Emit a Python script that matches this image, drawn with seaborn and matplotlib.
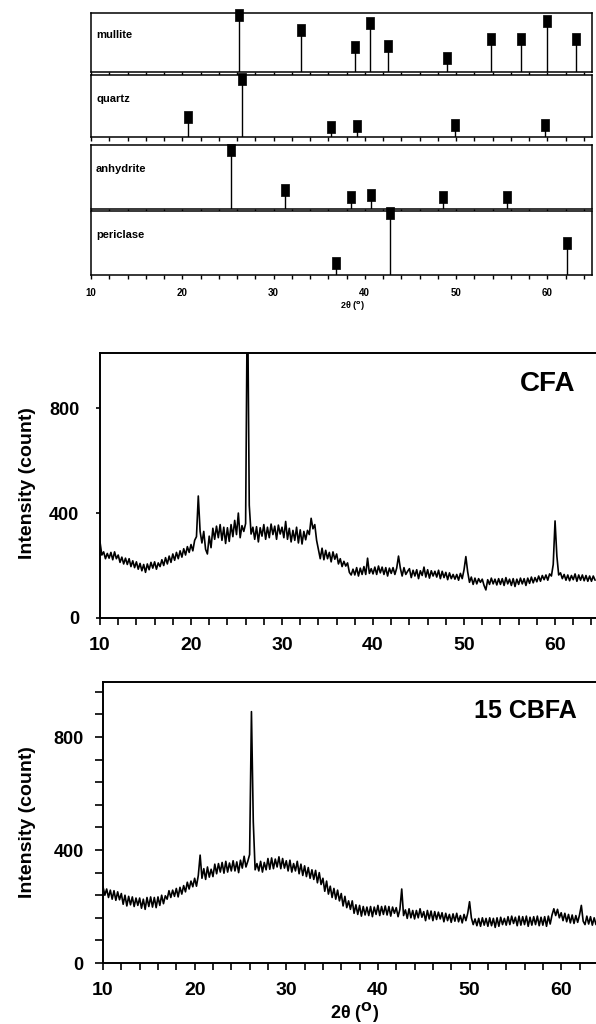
import numpy as np
import pandas as pd
import matplotlib
matplotlib.use("Agg")
import matplotlib.pyplot as plt
from matplotlib.ticker import MultipleLocator, FixedLocator
import seaborn as sns

# ---------------- data ----------------
phases = ["mullite", "quartz", "anhydrite", "periclase"]
mullite_pos = [26.2, 33.0, 38.9, 40.6, 42.5, 49.0, 53.8, 57.1, 60.0, 63.2]
mullite_int = [97, 71, 42, 83, 44, 24, 56, 56, 86, 56]
quartz_pos = [20.6, 26.5, 36.3, 39.2, 49.9, 59.7]
quartz_int = [32, 94, 16, 18, 19, 19]
anhydrite_pos = [25.3, 31.3, 38.5, 40.7, 48.6, 55.6]
anhydrite_int = [92, 30, 19, 22, 19, 19]
periclase_pos = [36.9, 42.75, 62.2]
periclase_int = [19, 97, 50]

two_theta = np.round(np.arange(10.0, 64.41, 0.2), 1)

cfa = [
    290, 240, 252, 226, 246,  228, 250, 222, 252, 226,  240, 212, 232, 206, 228,
    204, 226, 196, 218, 192,  214, 186, 208, 180, 204,  174, 206, 184, 212, 190,
    214, 186, 210, 196, 222,  200, 230, 206, 236, 212,  244, 220, 250, 226, 256,
    232, 264, 240, 272, 250,  280, 256, 296, 310, 465,  330, 286, 330, 262, 244,
    312, 268, 342, 300, 350,  306, 356, 296, 346, 284,  344, 292, 356, 310, 372,
    318, 400, 306, 352, 330,  360, 1300, 430, 320, 346, 300, 348, 290, 344, 312,
    356, 300, 346, 306, 358,  318, 350, 300, 354, 320,  346, 306, 368, 300, 342,
    290, 334, 296, 346, 286,  336, 282, 330, 298, 334,  318, 380, 340, 356, 296,
    262, 226, 266, 222, 258,  226, 250, 214, 252, 224,  244, 206, 226, 196, 216,
    198, 210, 174, 164, 186,  164, 192, 160, 190, 166,  196, 166, 228, 170, 188,
    168, 194, 166, 198, 172,  194, 166, 192, 160, 190,  170, 192, 166, 190, 236,
    190, 160, 192, 166, 178,  188, 154, 182, 160, 184,  150, 180, 162, 194, 156,
    184, 152, 180, 160, 178,  156, 182, 150, 178, 154,  174, 146, 172, 150, 166,
    148, 166, 144, 170, 150,  184, 234, 176, 136, 156,  128, 152, 130, 150, 136,
    148, 124, 107, 146, 128,  152, 130, 148, 126, 150,  128, 150, 124, 154, 130,
    148, 124, 150, 120, 148,  128, 152, 130, 150, 124,  152, 132, 156, 134, 154,
    138, 160, 140, 162, 146,  164, 144, 168, 160, 204,  370, 236, 164, 172, 150,
    166, 144, 164, 142, 162,  146, 168, 140, 164, 144,  164, 142, 162, 140, 160,
    140, 160, 144,
]

cbfa = [
    270, 240, 262, 232, 258,  226, 256, 222, 252, 224,  246, 208, 240, 202, 236,
    206, 234, 200, 230, 204,  230, 194, 226, 190, 232,  200, 234, 198, 232, 196,
    234, 204, 240, 210, 238,  226, 256, 232, 258, 236,  264, 234, 268, 244, 274,
    252, 286, 262, 290, 270,  300, 272, 310, 382, 300,  334, 296, 340, 304, 332,
    306, 350, 316, 352, 322,  356, 318, 360, 322, 354,  326, 362, 326, 358, 320,
    364, 336, 378, 340, 360,  384, 890, 500, 330, 352,  326, 360, 322, 356, 330,
    370, 332, 372, 334, 368,  340, 376, 334, 370, 336,  362, 326, 364, 322, 352,
    326, 360, 316, 350, 310,  344, 306, 338, 300, 330,  296, 328, 284, 320, 278,
    300, 254, 290, 244, 272,  232, 264, 226, 258, 220,  246, 202, 236, 196, 220,
    190, 220, 176, 206, 172,  204, 166, 200, 170, 198,  168, 200, 164, 198, 172,
    204, 168, 200, 172, 202,  170, 200, 166, 198, 176,  196, 164, 190, 262, 168,
    188, 158, 192, 160, 186,  156, 186, 160, 192, 162,  182, 150, 186, 156, 184,
    150, 182, 154, 180, 156,  178, 146, 176, 150, 172,  144, 174, 148, 176, 146,
    168, 142, 172, 150, 176,  217, 160, 136, 156, 132,  158, 130, 160, 134, 158,
    130, 160, 132, 158, 126,  160, 130, 162, 136, 158,  134, 164, 136, 166, 140,
    162, 132, 166, 134, 164,  136, 166, 130, 162, 134,  164, 136, 166, 132, 162,
    134, 164, 130, 166, 138,  170, 192, 168, 190, 160,  178, 150, 176, 146, 172,
    142, 170, 140, 168, 144,  170, 204, 148, 136, 166,  138, 164, 134, 160, 136,
    156, 132, 152,
]

sample_names = ["CFA", "15 CBFA"]
x_ticks = [10, 20, 30, 40, 50, 60]
y_ticks = [0, 400, 800]

# ---------------- style ----------------
sns.set_theme(style="white")
plt.rcParams["font.family"] = ["Liberation Sans", "DejaVu Sans"]
plt.rcParams["font.weight"] = "bold"
plt.rcParams["mathtext.default"] = "bf"
for k in ["text.color", "axes.labelcolor", "xtick.color", "ytick.color", "axes.edgecolor"]:
    plt.rcParams[k] = "black"

W, H = 596, 1024
fig = plt.figure(figsize=(W / 100, H / 100), dpi=100)


def axpx(l, t, r, b):
    return fig.add_axes([l / W, 1 - b / H, (r - l) / W, (b - t) / H])


# ---------------- stick patterns ----------------
stick_data = {
    "mullite": (mullite_pos, mullite_int),
    "quartz": (quartz_pos, quartz_int),
    "anhydrite": (anhydrite_pos, anhydrite_int),
    "periclase": (periclase_pos, periclase_int),
}
boxes = [(13, 72), (75, 137), (145, 209), (211, 275)]
rect_marker = [(-0.32, -0.5), (0.32, -0.5), (0.32, 0.5), (-0.32, 0.5), (-0.32, -0.5)]

for i, (name, (t, b)) in enumerate(zip(phases, boxes)):
    ax = axpx(91, t, 592, b)
    pos, inten = stick_data[name]
    df = pd.DataFrame({"pos": pos, "int": inten})
    ax.vlines(df["pos"], 0, df["int"], color="black", lw=1.0)
    sns.scatterplot(data=df, x="pos", y="int", ax=ax, marker=rect_marker, s=70,
                    color="black", edgecolor="black", linewidth=0.5, clip_on=False,
                    zorder=5, legend=False)
    ax.set_xlim(10, 64.9)
    ax.set_ylim(0, 100)
    ax.set_xlabel("")
    ax.set_ylabel("")
    ax.set_yticks([])
    ax.xaxis.set_major_locator(FixedLocator(x_ticks))
    ax.xaxis.set_minor_locator(MultipleLocator(2))
    ax.tick_params(axis="x", which="both", direction="out", length=3, width=1,
                   color="black", bottom=True, labelsize=7, pad=6)
    for sp in ax.spines.values():
        sp.set_color("black")
        sp.set_linewidth(1.1)
    ax.text(0.01, 0.62, name, transform=ax.transAxes, fontsize=8,
            fontweight="bold", va="center", ha="left")
    if i < 3:
        ax.set_xticklabels([])
    else:
        ax.set_xticklabels([str(v) for v in x_ticks], fontweight="bold")

fig.text(352 / W, 1 - 305 / H, r"2θ ($^{\mathrm{o}}$)", fontsize=6.5,
         fontweight="bold", ha="center", va="center")

# ---------------- spectra ----------------
specs = [
    (cfa, (100, 353, 596, 618), (10, 64.5), (0, 1010), 483),
    (cbfa, (103, 682, 596, 963), (10, 63.8), (0, 995), 822),
]
for (vals, (l, t, r, b), xl, yl, ycen), label in zip(specs, sample_names):
    ax = axpx(l, t, r, b)
    df = pd.DataFrame({"two_theta": two_theta, "intensity": vals})
    sns.lineplot(data=df, x="two_theta", y="intensity", ax=ax, color="black",
                 lw=1.2, estimator=None, sort=False)
    ax.set_xlim(*xl)
    ax.set_ylim(*yl)
    ax.set_xlabel("")
    ax.set_ylabel("")
    ax.xaxis.set_major_locator(FixedLocator(x_ticks))
    ax.xaxis.set_minor_locator(MultipleLocator(2))
    ax.yaxis.set_major_locator(FixedLocator(y_ticks))
    ax.set_xticklabels([str(v) for v in x_ticks], fontweight="bold")
    ax.set_yticklabels([str(v) for v in y_ticks], fontweight="bold")
    ax.tick_params(axis="x", which="both", direction="out", length=5, width=1.2,
                   color="black", bottom=True, labelsize=14, pad=9)
    if label == "15 CBFA":
        ax.yaxis.set_minor_locator(MultipleLocator(80))
        ax.tick_params(axis="y", which="both", direction="out", length=6, width=1.2,
                       color="black", left=True, labelsize=13, pad=8)
    else:
        ax.tick_params(axis="y", which="both", direction="out", length=3, width=1.2,
                       color="black", left=True, labelsize=13, pad=12)
    for sp in ax.spines.values():
        sp.set_color("black")
        sp.set_linewidth(1.4)
    ax.spines["right"].set_visible(False)
    fig.text(28 / W, 1 - ycen / H, "Intensity (count)", rotation=90,
             fontsize=14, fontweight="bold", ha="center", va="center")
    if label == "CFA":
        fig.text(548 / W, 1 - 384 / H, label, fontsize=20, fontweight="bold",
                 ha="center", va="center")
    else:
        fig.text(525 / W, 1 - 711 / H, label, fontsize=18, fontweight="bold",
                 ha="center", va="center")

fig.text(355 / W, 1 - 1013 / H, r"2θ ($^{\mathrm{O}}$)", fontsize=13,
         fontweight="bold", ha="center", va="center")

fig.savefig("out.png", dpi=100, facecolor="white")
